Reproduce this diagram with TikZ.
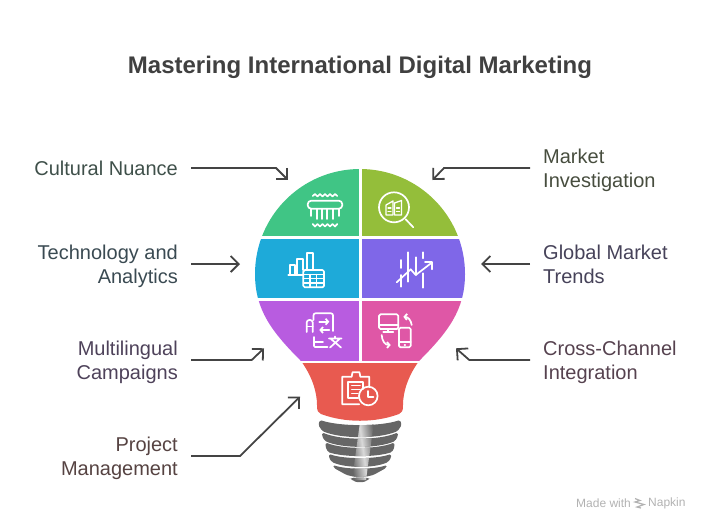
\documentclass[tikz,border=0pt]{standalone}
\usepackage{fontspec}
\setmainfont{Liberation Sans}
\usepackage{xcolor}
\usetikzlibrary{calc,arrows.meta}
\definecolor{ink}{HTML}{404040}
\definecolor{arrowc}{HTML}{444444}
\definecolor{screw}{HTML}{666666}
\definecolor{seggreen}{HTML}{40C585}
\definecolor{segolive}{HTML}{94BE3A}
\definecolor{segblue}{HTML}{1EAAD9}
\definecolor{segviolet}{HTML}{7F67E8}
\definecolor{segpurple}{HTML}{B85CE0}
\definecolor{segpink}{HTML}{DF57A6}
\definecolor{segred}{HTML}{E85A50}
\definecolor{txtgreen}{HTML}{3F504A}
\definecolor{txtolive}{HTML}{474D3E}
\definecolor{txtblue}{HTML}{3A4A52}
\definecolor{txtviolet}{HTML}{464259}
\definecolor{txtpurple}{HTML}{4E425A}
\definecolor{txtpink}{HTML}{56424F}
\definecolor{txtred}{HTML}{564342}
\tikzset{
  arr/.style={draw=arrowc, line width=1.8pt, -{Straight Barb[length=8pt,width=16pt]}},
  ico/.style={draw=white, line width=1.7pt, line cap=round, line join=round},
  icohead/.style={ico, -{Straight Barb[length=2.6pt,width=6pt]}},
  labl/.style={anchor=east, align=right, inner sep=13pt, font=\fontsize{20}{24}\selectfont},
  labr/.style={anchor=west, align=left, inner sep=13pt, font=\fontsize{20}{24}\selectfont},
}
\newcommand{\bulbpath}{(360,169) .. controls (302,169) and (255,216) .. (255,274)
  .. controls (255,310) and (272,332) .. (301,361)
  .. controls (312,376) and (317,392) .. (317,405)
  .. controls (317,411) and (318,413) .. (321,414)
  .. controls (345,423) and (375,423) .. (399,414)
  .. controls (402,413) and (403,411) .. (403,405)
  .. controls (403,392) and (408,376) .. (419,361)
  .. controls (448,332) and (465,310) .. (465,274)
  .. controls (465,216) and (418,169) .. (360,169) -- cycle}
\begin{document}
\begin{tikzpicture}[x=1pt,y=-1pt]
  \useasboundingbox (0,0) rectangle (708,531);
  \node[text=ink, font=\fontsize{24}{28}\bfseries\selectfont] (title) at (360,67) {Mastering International Digital Marketing};

  % bulb
  \begin{scope}
    \clip \bulbpath;
    \fill[seggreen] (250,160) rectangle (359,236);
    \fill[segolive] (361.5,160) rectangle (470,236);
    \fill[segblue] (250,238.5) rectangle (359,298);
    \fill[segviolet] (361.5,238.5) rectangle (470,298);
    \fill[segpurple] (250,301) rectangle (359,361);
    \fill[segpink] (361.5,301) rectangle (470,361);
    \fill[segred] (250,363) rectangle (470,430);
  \end{scope}

  % screw
  \foreach \xa/\ya/\xm/\ym/\xb/\yb/\yc/\yd in {
    320/420/318.3/425/322.3/431/425/437,
    322.3/432.5/322/436/325/441/438.5/446.7,
    325.7/442.5/325.5/447/328/452/447.7/456,
    329/454/329/458/332/462/458/466.7,
    333/465/334/468/343/473/468.5/476.7,
    350/478.5/351/479/354/481/477.7/482}{
    \begin{scope}
      \clip[rounded corners=1.5pt] (\xa,\ya)
        .. controls ({\xa+(360-\xa)*0.5},{\ya+(\yc-\ya)*1.33}) and ({720-\xa-(360-\xa)*0.5},{\ya+(\yc-\ya)*1.33}) .. ({720-\xa},\ya)
        -- ({720-\xm},\ym) -- ({720-\xb},\yb)
        .. controls ({720-\xb-(360-\xb)*0.5},{\yb+(\yd-\yb)*1.33}) and ({\xb+(360-\xb)*0.5},{\yb+(\yd-\yb)*1.33}) .. (\xb,\yb)
        -- (\xm,\ym) -- cycle;
      \fill[screw] (300,410) rectangle (420,490);
      \shade[left color=screw,right color=screw,middle color=white!85!black,shading angle=98]
        (360,422) -- (374,422) -- (366,480) -- (352,480) -- cycle;
    \end{scope}
  }

  % green icon
  \draw[ico] (312.7,196) -- (315,194) -- (317.5,196.5) -- (320,194) -- (322.5,196.5) -- (325,194) -- (327.5,196.5) -- (330,194) -- (332.5,196.5) -- (335,194) -- (337.3,196);
  \draw[ico,rounded corners=3.5pt] (307.7,200.7) rectangle (342.3,208.7);
  \foreach \x/\y in {311/216,316.7/219,322.3/219,327.3/219,332.7/219,338.7/216}
    \draw[ico] (\x,208.7) -- (\x,\y);
  \draw[ico] (312.7,224) -- (315,226.5) -- (317.5,224) -- (320,226.5) -- (322.5,224) -- (325,226.5) -- (327.5,224) -- (330,226.5) -- (332.5,224) -- (335,226.5) -- (337.3,224);

  % olive icon
  \draw[ico] (394,207.3) circle (15);
  \draw[ico] (405.7,219.3) -- (413.3,227.3);
  \draw[ico,line width=1.3pt] (393,215) -- (386,215) -- (386,205) -- (393,201) -- cycle;
  \draw[ico,line width=1.3pt] (394.5,215) -- (394.5,203) -- (401.5,200.5) -- (401.5,215) -- cycle;
  \foreach \y in {208,211.5}
    \draw[ico,line width=1.3pt] (388,\y) -- (391,\y) (396.5,\y) -- (399.5,\y);

  % blue icon
  \draw[ico] (288.3,275) -- (303.3,275);
  \draw[ico] (289.7,275) -- (289.7,265) -- (295,265) -- (295,275);
  \draw[ico] (297.3,275) -- (297.3,259) -- (303,259) -- (303,270);
  \draw[ico] (307.3,270) -- (307.3,252.7) -- (312.7,252.7) -- (312.7,270);
  \draw[ico,rounded corners=1.5pt] (303.3,270) rectangle (324,287.3);
  \draw[ico,line width=1.3pt] (303.3,274.5) -- (324,274.5) (303.3,278.7) -- (324,278.7) (303.3,283) -- (324,283)
    (310,274.5) -- (310,287.3) (316.7,274.5) -- (316.7,287.3);

  % violet icon
  \foreach \x/\ya/\yb in {401/260/268,401/275/286.7,408.3/252.3/281.7,415.7/257.3/275,423.3/252.3/258.3,423.3/273.3/287.7}
    \draw[ico] (\x,\ya) -- (\x,\yb);
  \draw[ico] (396.7,282.3) -- (410.7,269.3) -- (415.7,275) -- (431.7,262.7);
  \draw[ico] (425,262.3) -- (431.7,262.3) -- (431.7,269.3);

  % purple icon
  \draw[ico,rounded corners=2.5pt] (306.7,332) -- (306.7,320) -- (312.7,320) -- (312.7,332);
  \draw[ico] (306.7,326.5) -- (312.7,326.5);
  \draw[ico,rounded corners=2pt] (313.5,320) -- (313.5,313.3) -- (333,313.3) -- (333,331);
  \draw[icohead] (319.3,321.7) -- (329.3,321.7);
  \draw[icohead] (329.3,330) -- (319.3,330);
  \draw[ico,rounded corners=1pt] (314,337) -- (314,347) -- (327.5,347);
  \draw[ico] (314,342) -- (323,342);
  \draw[ico] (329,338.5) -- (341.5,338.5) (335,336.5) -- (335,338.5) (331,339) -- (341,347.5) (339.5,339) -- (330,347.5);

  % pink icon
  \draw[ico,rounded corners=1.5pt] (379,314.3) rectangle (398.3,329);
  \draw[ico] (379,325) -- (398.3,325) (388.3,329) -- (388.3,331.7) (383.3,331.7) -- (393.3,331.7);
  \draw[ico,rounded corners=1.5pt] (399,327.7) rectangle (410.7,347.3);
  \draw[ico] (399,342.3) -- (410.7,342.3) (404.5,344.8) -- (405.2,344.8);
  \draw[icohead] (411.7,325) .. controls (411,320) and (408,317) .. (403.3,316.7);
  \draw[icohead] (381.7,335) .. controls (382,341) and (385,345) .. (390.7,345);

  % red icon
  \draw[ico] (359.3,404.3) -- (342.3,404.3) -- (342.3,376.7) -- (351.7,376.7) -- (352.5,372.3) -- (359.5,372.3) -- (360.3,376.7) -- (369.3,376.7) -- (369.3,387);
  \draw[ico] (358.3,398.3) -- (348.3,398.3) -- (348.3,381.7) -- (363.3,381.7) -- (363.3,389);
  \draw[ico] (351.7,385.5) -- (360,385.5) (351.7,389.5) -- (360,389.5) (351.7,393.5) -- (358,393.5);
  \draw[ico] (368.3,396) circle (9.3);
  \draw[ico] (368.3,391) -- (368.3,396.7) -- (373.5,396.7);

  % labels
  \node[labl, text=txtgreen] (nuance) at (191,168) {Cultural Nuance};
  \node[labl, text=txtblue] (analytics) at (191,266) {Technology and\\Analytics};
  \node[labl, text=txtpurple] (campaigns) at (191,362) {Multilingual\\Campaigns};
  \node[labl, text=txtred] (project) at (191,458) {Project\\Management};
  \node[labr, text=txtolive] (market) at (530,170) {Market\\Investigation};
  \node[labr, text=txtviolet] (trends) at (530,264) {Global Market\\Trends};
  \node[labr, text=txtpink] (channel) at (530,362) {Cross-Channel\\Integration};

  % arrows
  \coordinate (bendA) at (276,168);
  \coordinate (tipA) at (288,180);
  \coordinate (tipB) at (240,264);
  \coordinate (bendC) at (251.7,360);
  \coordinate (tipC) at (264,348.3);
  \coordinate (bendD) at (240,456);
  \coordinate (tipD) at (300,396.7);
  \coordinate (bendE) at (444,168);
  \coordinate (tipE) at (432.5,180);
  \coordinate (tipF) at (481,264);
  \coordinate (bendG) at (469.3,360);
  \coordinate (tipG) at (456,348.3);
  \draw[arr] (nuance.east) -- (bendA) -- (tipA);
  \draw[arr] (analytics.east |- tipB) -- (tipB);
  \draw[arr] (campaigns.east |- bendC) -- (bendC) -- (tipC);
  \draw[arr] (project.east |- bendD) -- (bendD) -- (tipD);
  \draw[arr] (market.west |- bendE) -- (bendE) -- (tipE);
  \draw[arr] (trends.west |- tipF) -- (tipF);
  \draw[arr] (channel.west |- bendG) -- (bendG) -- (tipG);

  % footer
  \node[anchor=west, inner sep=0pt, text=black!30, font=\fontsize{12}{14}\selectfont] (made) at (576,503) {Made with};
  \node[anchor=west, inner sep=0pt, text=black!30, font=\fontsize{12}{14}\selectfont] (napkin) at (648,503.5) {Napkin};
  \draw[draw=black!30, line width=1.2pt] (635,498.5) -- (640,500.5) -- (635,502) -- (644,504.5) -- (637,507) -- (641,508);
\end{tikzpicture}
\end{document}
